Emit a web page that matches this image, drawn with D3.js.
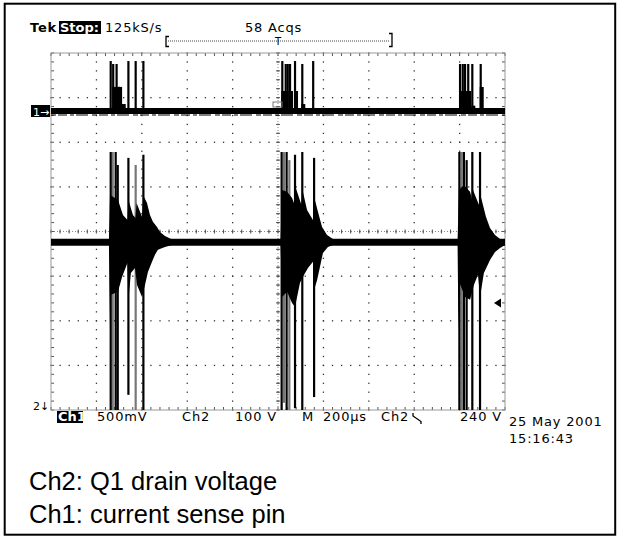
<!DOCTYPE html>
<html>
<head>
<meta charset="utf-8">
<script src="https://cdn.jsdelivr.net/npm/d3@7"></script>
<style>
body { margin: 0; background: #fff; }
.scope { font-family: "DejaVu Sans", sans-serif; font-size: 13px; letter-spacing: 0.8px; }
.caption { font-family: "Liberation Sans", Arial, sans-serif; font-size: 25.5px; }
</style>
</head>
<body>
<div id="chart"></div>
<script>
// scope settings
var timeRange = [0, 2000];     // us, 10 div x 200 us
var divRange = [0, 8];
var ch2Range = [0, 800];       // V, 100 V/div, ground at bottom edge
var ch1Pos = 6.7;              // div from bottom where ch1 zero sits
var ch1PerDiv = 500;           // mV/div
var ch1Baseline = 0;           // mV
var ch2Baseline = 376;         // V
var trigLevel = 240;           // V
var trigTime = 1000;           // us

// ch1 current sense spikes: [t us, peak mV, body mV]
var ch1Spikes = [
	[263, 560, 0], [274, 527, 270], [289, 527, 270], [300, 270, 270], [316, 78, 78],
	[341, 560, 0], [373, 560, 0], [407, 560, 0],
	[1019, 560, 224], [1034, 527, 224], [1043, 527, 0], [1053, 527, 224], [1075, 560, 224],
	[1107, 527, 78], [1155, 560, 0],
	[1802, 527, 224], [1814, 527, 224], [1824, 527, 224], [1838, 527, 224], [1856, 527, 60],
	[1893, 527, 269]
];

// ch2 drain voltage spikes: [t us, top V, bottom V, faint]
var ch2Spikes = [
	[263, 578, -10, 0], [272, 578, -10, 1], [285, 578, -10, 0], [294, 549, -10, 0],
	[341, 565, 34, 0], [373, 549, -10, 1], [407, 572, -10, 0],
	[1016, 578, -10, 0], [1026, 578, 16, 1], [1038, 578, -10, 0], [1050, 560, -10, 1],
	[1075, 572, 4, 0], [1107, 578, -10, 0], [1159, 565, 29, 0],
	[1799, 578, -10, 0], [1809, 578, -10, 1], [1819, 578, -10, 0], [1831, 560, -10, 0],
	[1856, 578, -10, 0], [1890, 578, -10, 0]
];

// ringing envelopes [t us, V]
var env1Upper = [[255,376],[260,482],[295,471],[317,437],[337,426],[341,471],[361,437],[372,430],[377,464],[401,433],[407,480],[423,464],[436,437],[449,422],[467,410],[480,399],[502,390],[529,383],[540,376]];
var env1Lower = [[255,376],[260,179],[264,258],[295,265],[313,298],[337,330],[341,247],[352,307],[370,318],[379,280],[401,253],[414,280],[427,309],[445,332],[458,348],[471,359],[502,365],[533,370],[540,376]];
var env2Upper = [[1011,376],[1018,493],[1040,489],[1062,475],[1073,460],[1077,500],[1103,460],[1108,493],[1128,448],[1154,426],[1159,478],[1176,444],[1194,410],[1216,392],[1242,383],[1250,376]];
var env2Lower = [[1011,376],[1018,253],[1040,265],[1062,240],[1075,231],[1097,285],[1115,303],[1132,318],[1154,332],[1159,269],[1172,291],[1185,321],[1198,352],[1220,365],[1242,370],[1250,376]];
var env3Upper = [[1791,376],[1797,493],[1819,504],[1846,489],[1855,471],[1859,493],[1885,460],[1892,482],[1916,433],[1934,408],[1956,392],[1978,383],[2000,381]];
var env3Lower = [[1791,376],[1795,175],[1800,285],[1824,253],[1846,247],[1863,280],[1881,303],[1890,253],[1907,307],[1934,336],[1956,354],[1978,363],[2000,370]];

// readouts
var headerSample = "125kS/s";
var headerAcqs = "58 Acqs";
var readouts = [["500mV", 97], ["Ch2", 182], ["100 V", 235], ["M", 302], ["200\u00b5s", 323], ["Ch2", 381], ["240 V", 460]];
var dateText = ["25 May 2001", "15:16:43"];
var captions = ["Ch2: Q1 drain voltage", "Ch1: current sense pin"];

var W = 622, H = 538;
var svg = d3.select("#chart").append("svg").attr("width", W).attr("height", H);

// outer frame
svg.append("rect").attr("x", 4.7).attr("y", 3.7).attr("width", 610.5).attr("height", 531)
	.attr("fill", "none").attr("stroke", "#000").attr("stroke-width", 2);

var x = d3.scaleLinear().domain(timeRange).range([51, 505]);
var yDiv = d3.scaleLinear().domain(divRange).range([410, 53]);
var y2 = d3.scaleLinear().domain(ch2Range).range([410, 53]);
var y1 = d3.scaleLinear()
	.domain([-ch1Pos * ch1PerDiv, (8 - ch1Pos) * ch1PerDiv])
	.range([410, 53]);

svg.append("clipPath").attr("id", "scr").append("rect")
	.attr("x", 51).attr("y", 53).attr("width", 454).attr("height", 357);

// graticule
var grid = svg.append("g");
var minorT = d3.range(0, 2000.1, 40);
var minorD = d3.range(0, 8.01, 0.2);
d3.range(200, 2000, 200).forEach(function(t){
	minorD.forEach(function(d){
		grid.append("rect").attr("x", x(t) - 0.6).attr("y", yDiv(d) - 0.6)
			.attr("width", 1.3).attr("height", 1.3).attr("fill", "#333");
	});
});
d3.range(1, 8, 1).forEach(function(dv){
	minorT.forEach(function(t){
		grid.append("rect").attr("x", x(t) - 0.6).attr("y", yDiv(dv) - 0.6)
			.attr("width", 1.3).attr("height", 1.3).attr("fill", "#333");
	});
});
// centre lines with ticks
grid.append("line").attr("x1", x(0)).attr("x2", x(2000)).attr("y1", yDiv(4)).attr("y2", yDiv(4))
	.attr("stroke", "#888").attr("stroke-dasharray", "1,2");
grid.append("line").attr("x1", x(1000)).attr("x2", x(1000)).attr("y1", yDiv(0)).attr("y2", yDiv(8))
	.attr("stroke", "#888").attr("stroke-dasharray", "1,2");
minorT.forEach(function(t){
	grid.append("line").attr("x1", x(t)).attr("x2", x(t)).attr("y1", yDiv(4) - 2).attr("y2", yDiv(4) + 2)
		.attr("stroke", "#555");
	grid.append("line").attr("x1", x(t)).attr("x2", x(t)).attr("y1", yDiv(8)).attr("y2", yDiv(8) + 3)
		.attr("stroke", "#555");
	grid.append("line").attr("x1", x(t)).attr("x2", x(t)).attr("y1", yDiv(0)).attr("y2", yDiv(0) - 3)
		.attr("stroke", "#555");
});
minorD.forEach(function(d){
	grid.append("line").attr("x1", x(1000) - 2).attr("x2", x(1000) + 2).attr("y1", yDiv(d)).attr("y2", yDiv(d))
		.attr("stroke", "#555");
	grid.append("line").attr("x1", x(0)).attr("x2", x(0) + 3).attr("y1", yDiv(d)).attr("y2", yDiv(d))
		.attr("stroke", "#555");
	grid.append("line").attr("x1", x(2000)).attr("x2", x(2000) - 3).attr("y1", yDiv(d)).attr("y2", yDiv(d))
		.attr("stroke", "#555");
});
grid.append("rect").attr("x", 51).attr("y", 53).attr("width", 454).attr("height", 357)
	.attr("fill", "none").attr("stroke", "#999");

var traces = svg.append("g").attr("clip-path", "url(#scr)");

function spikeLines(sel, data, cls){
	sel.selectAll("." + cls).data(data).enter().append("line")
		.attr("class", cls)
		.attr("x1", function(d){ return x(d[0]); }).attr("x2", function(d){ return x(d[0]); })
		.attr("y1", function(d){ return y2(d[1]); }).attr("y2", function(d){ return y2(d[2]); })
		.attr("stroke", function(d){ return d[3] ? "#777" : "#000"; })
		.attr("stroke-width", 2.2);
}

// ch2 baseline and ringing bursts (faint spikes sit behind the fill)
traces.append("line").attr("x1", x(0)).attr("x2", x(2000))
	.attr("y1", y2(ch2Baseline)).attr("y2", y2(ch2Baseline))
	.attr("stroke", "#000").attr("stroke-width", 7);
spikeLines(traces, ch2Spikes.filter(function(d){ return d[3]; }), "ch2-faint");
var area = d3.line().x(function(d){ return x(d[0]); }).y(function(d){ return y2(d[1]); });
[[env1Upper, env1Lower], [env2Upper, env2Lower], [env3Upper, env3Lower]].forEach(function(e){
	var poly = e[0].concat(e[1].slice().reverse());
	traces.append("path").attr("d", area(poly) + "Z").attr("fill", "#000");
});
spikeLines(traces, ch2Spikes.filter(function(d){ return !d[3]; }), "ch2-spike");

// ch1 baseline and spikes
traces.append("line").attr("x1", x(0)).attr("x2", x(2000))
	.attr("y1", y1(ch1Baseline)).attr("y2", y1(ch1Baseline))
	.attr("stroke", "#000").attr("stroke-width", 6);
traces.append("line").attr("x1", x(0)).attr("x2", x(2000))
	.attr("y1", y1(ch1Baseline) + 4).attr("y2", y1(ch1Baseline) + 4)
	.attr("stroke", "#000").attr("stroke-width", 1.2).attr("stroke-dasharray", "5,2,9,3,4,2,12,4");
traces.selectAll(".ch1-body").data(ch1Spikes.filter(function(d){ return d[2] > 0; })).enter().append("rect")
	.attr("class", "ch1-body")
	.attr("x", function(d){ return x(d[0]) - 1; })
	.attr("y", function(d){ return y1(d[2]); })
	.attr("width", 4)
	.attr("height", function(d){ return y1(ch1Baseline) - y1(d[2]); })
	.attr("fill", "#000");
traces.selectAll(".ch1-spike").data(ch1Spikes).enter().append("line")
	.attr("class", "ch1-spike")
	.attr("x1", function(d){ return x(d[0]); }).attr("x2", function(d){ return x(d[0]); })
	.attr("y1", function(d){ return y1(d[1]); }).attr("y2", function(d){ return y1(ch1Baseline); })
	.attr("stroke", "#000").attr("stroke-width", 2.2);
// small box at trigger point on ch1
traces.append("rect").attr("x", x(trigTime) - 5).attr("y", y1(ch1Baseline) - 9)
	.attr("width", 9).attr("height", 5).attr("fill", "none").attr("stroke", "#777");

// channel markers
var m1 = svg.append("g");
m1.append("rect").attr("x", 31).attr("y", y1(ch1Baseline) - 6).attr("width", 19).attr("height", 12).attr("fill", "#000");
m1.append("text").attr("class", "scope").attr("x", 33).attr("y", y1(ch1Baseline) + 4.5)
	.attr("fill", "#fff").style("font-size", "11px").style("letter-spacing", "0px").text("1\u2192");
svg.append("text").attr("class", "scope").attr("x", 33).attr("y", yDiv(0))
	.style("font-size", "11px").style("letter-spacing", "0px").text("2\u2193");
svg.append("path")
	.attr("d", d3.line()([[x(2000) - 4, y2(trigLevel) - 4.5], [x(2000) - 11, y2(trigLevel)], [x(2000) - 4, y2(trigLevel) + 4.5]]) + "Z")
	.attr("fill", "#000");

// header
svg.append("text").attr("class", "scope").attr("x", 30).attr("y", 32).style("font-weight", "bold").text("Tek");
svg.append("rect").attr("x", 59).attr("y", 21).attr("width", 42).attr("height", 13).attr("fill", "#000");
svg.append("text").attr("class", "scope").attr("x", 60).attr("y", 32).attr("fill", "#fff")
	.style("font-weight", "bold").style("letter-spacing", "0px").text("Stop:");
svg.append("text").attr("class", "scope").attr("x", 105).attr("y", 32).text(headerSample);
svg.append("text").attr("class", "scope").attr("x", 245).attr("y", 32).text(headerAcqs);
svg.append("path").attr("d", "M169,36.5H166V46.5H169M389,33.5H392V46.5H389")
	.attr("fill", "none").attr("stroke", "#000").attr("stroke-width", 1.3);
svg.append("line").attr("x1", 168).attr("x2", 390).attr("y1", 41).attr("y2", 41)
	.attr("stroke", "#444").attr("stroke-dasharray", "1,1");
svg.append("text").attr("class", "scope").attr("x", x(trigTime)).attr("y", 45)
	.attr("text-anchor", "middle").style("font-size", "10px").style("letter-spacing", "0px").text("T");

// bottom readouts
svg.append("rect").attr("x", 57).attr("y", 411).attr("width", 26).attr("height", 12).attr("fill", "#000");
svg.append("text").attr("class", "scope").attr("x", 58).attr("y", 421).attr("fill", "#fff")
	.style("font-weight", "bold").style("letter-spacing", "0px").text("Ch1");
svg.selectAll(".readout").data(readouts).enter().append("text")
	.attr("class", "scope readout")
	.attr("x", function(d){ return d[1]; }).attr("y", 421)
	.text(function(d){ return d[0]; });
svg.append("path").attr("d", "M413,413V416L421,421.5V424").attr("fill", "none").attr("stroke", "#000").attr("stroke-width", 1.3);
svg.selectAll(".date").data(dateText).enter().append("text")
	.attr("class", "scope date")
	.attr("x", 509).attr("y", function(d, i){ return 426 + i * 17; })
	.text(function(d){ return d; });

svg.selectAll(".caption").data(captions).enter().append("text")
	.attr("class", "caption")
	.attr("x", 29).attr("y", function(d, i){ return 490 + i * 33; })
	.text(function(d){ return d; });
</script>
</body>
</html>
